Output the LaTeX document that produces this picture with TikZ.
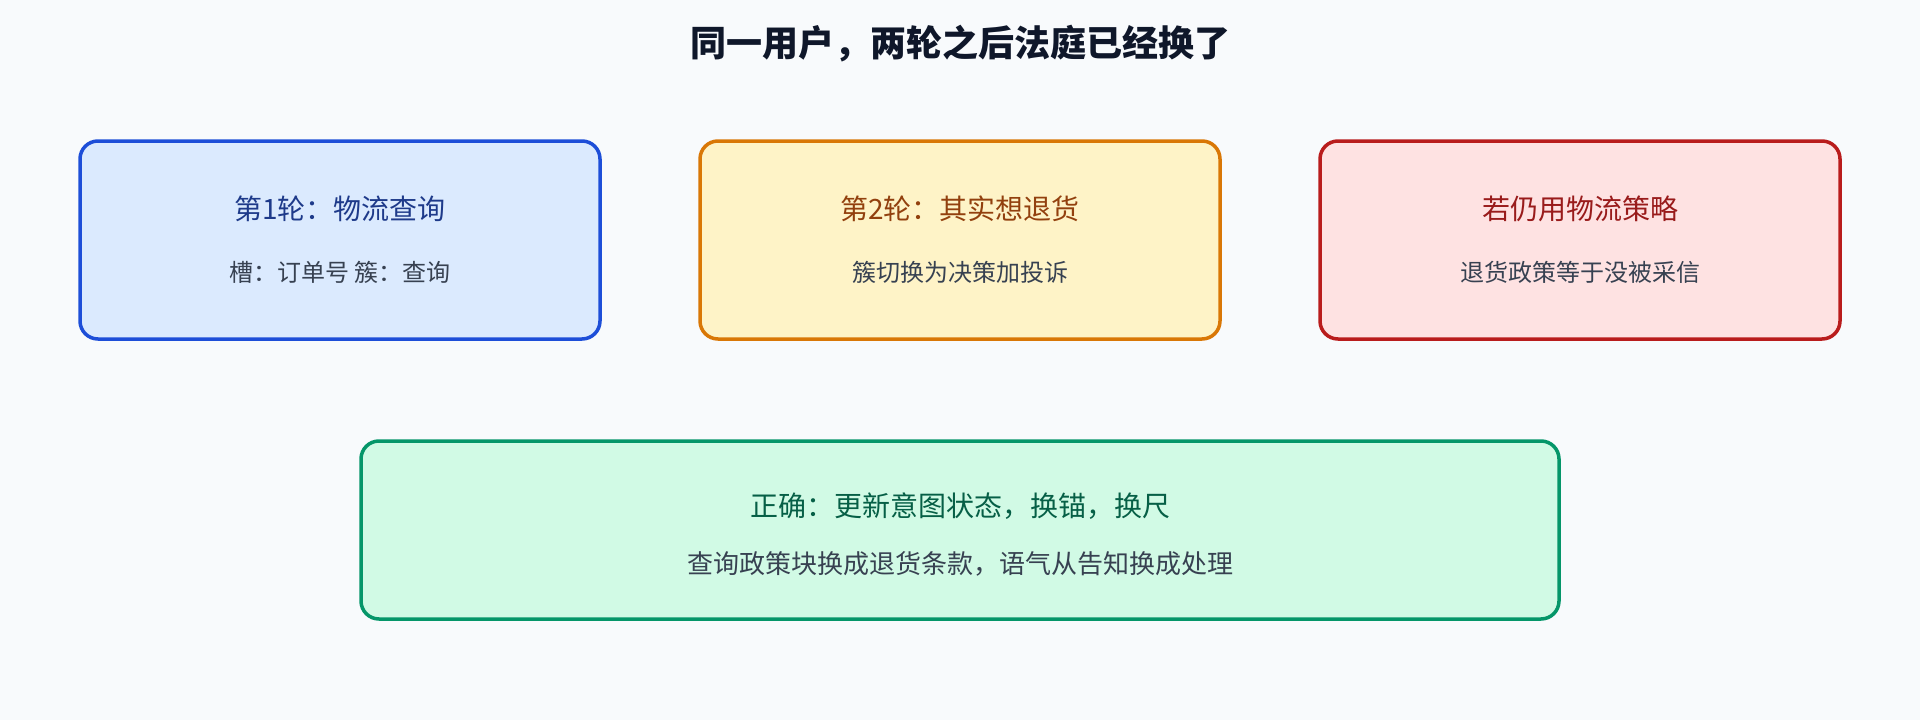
\documentclass[tikz,border=0pt]{standalone}
\usepackage{fontspec}
\setmainfont{Noto Sans CJK SC}
\usetikzlibrary{positioning}

\definecolor{pagebg}{HTML}{F8FAFC}
\definecolor{headink}{HTML}{0F172A}
\definecolor{subink}{HTML}{374151}
\definecolor{blueline}{HTML}{1D4ED8}
\definecolor{bluefill}{HTML}{DBEAFE}
\definecolor{blueink}{HTML}{1E3A8A}
\definecolor{amberline}{HTML}{D97706}
\definecolor{amberfill}{HTML}{FEF3C7}
\definecolor{amberink}{HTML}{92400E}
\definecolor{redline}{HTML}{B91C1C}
\definecolor{redfill}{HTML}{FEE2E2}
\definecolor{redink}{HTML}{991B1B}
\definecolor{greenline}{HTML}{059669}
\definecolor{greenfill}{HTML}{D1FAE5}
\definecolor{greenink}{HTML}{065F46}

\begin{document}
\begin{tikzpicture}[
    % GLOBAL CFG
    x=1pt, y=-1pt,
    % Styles
    turnbox/.style={% For the rounded boxes
        rectangle,
        rounded corners=18pt,
        line width=3.5pt,
        minimum width=520pt,
        minimum height=198pt,
    },
    heading/.style={% For the page title
        font=\fontsize{36}{40}\selectfont\bfseries,
        text=headink,
        inner sep=0pt,
    },
    boxtitle/.style={% For the first line in a box
        font=\fontsize{28}{32}\selectfont,
        inner sep=0pt,
    },
    boxnote/.style={% For the second line in a box
        font=\fontsize{24}{28}\selectfont,
        text=subink,
        inner sep=0pt,
    },
    ]
    % Background
    \fill[pagebg] (0,0) rectangle (1920,720);
    \useasboundingbox (0,0) rectangle (1920,720);

    % Title
    \node[heading] (title) at (960,44) {同一用户，两轮之后法庭已经换了};

    % Draw boxes of the top row
    \node[turnbox, draw=blueline, fill=bluefill] (turn1) at (340,240) {};
    \node[turnbox, draw=amberline, fill=amberfill] (turn2) at (960,240) {};
    \node[turnbox, draw=redline, fill=redfill] (stale) at (1580,240) {};

    % Draw the box below
    \node[turnbox, draw=greenline, fill=greenfill, minimum width=1198pt,
        minimum height=178pt] (fix) at (960,530) {};

    % Texts inside the boxes
    \node[boxtitle, text=blueink] (turn1title) at ([yshift=31pt]turn1.center) {第1轮：物流查询};
    \node[boxnote] (turn1note) at ([yshift=-32pt]turn1.center) {槽：订单号 簇：查询};

    \node[boxtitle, text=amberink] (turn2title) at ([yshift=31pt]turn2.center) {第2轮：其实想退货};
    \node[boxnote] (turn2note) at ([yshift=-32pt]turn2.center) {簇切换为决策加投诉};

    \node[boxtitle, text=redink] (staletitle) at ([yshift=31pt]stale.center) {若仍用物流策略};
    \node[boxnote] (stalenote) at ([yshift=-32pt]stale.center) {退货政策等于没被采信};

    \node[boxtitle, text=greenink] (fixtitle) at ([yshift=24pt]fix.center) {正确：更新意图状态，换锚，换尺};
    \node[boxnote, font=\fontsize{26}{30}\selectfont] (fixnote) at ([yshift=-34pt]fix.center) {查询政策块换成退货条款，语气从告知换成处理};

\end{tikzpicture}
\end{document}
